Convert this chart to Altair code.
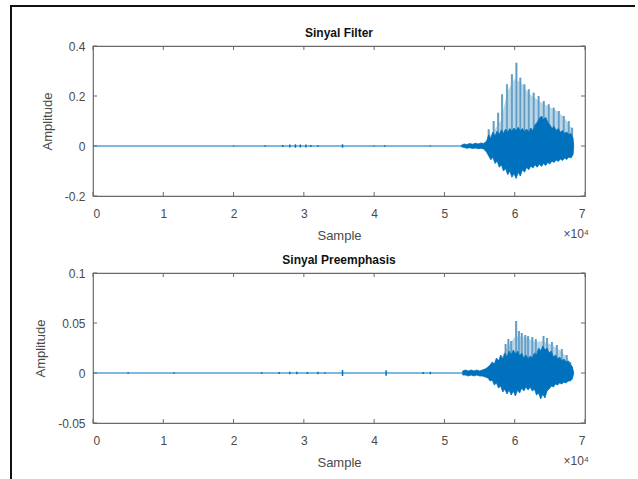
import altair as alt
import pandas as pd

# ---------------- axes ----------------
X_TICKS = [0, 10000, 20000, 30000, 40000, 50000, 60000, 70000]
TOP_Y_TICKS = [-0.2, 0, 0.2, 0.4]
BOT_Y_TICKS = [-0.05, 0, 0.05, 0.1]

# ---------------- "Sinyal Filter" ----------------
# quiet stretch of the recording (flat at zero)
filt_quiet = [0, 52400]
# small bursts inside the quiet stretch: sample, half-amplitude
filt_blip_x = [20000, 24500, 27000, 28000, 28800, 29500, 30300, 31000, 32000, 35500, 40000, 41500, 48000]
filt_blip_a = [0.002, 0.003, 0.004, 0.006, 0.007, 0.006, 0.006, 0.004, 0.003, 0.007, 0.002, 0.003, 0.002]
# dense voiced part: sample, upper and lower envelope
filt_x = [52400, 52800, 53200, 53600, 54000, 54400, 54800, 55200, 55600, 56000,
          56300, 56600, 56900, 57200, 57500, 57800, 58100, 58400, 58700, 59000,
          59300, 59600, 59900, 60200, 60500, 60800, 61100, 61400, 61700, 62000,
          62300, 62600, 62900, 63200, 63500, 63800, 64100, 64400, 64700, 65000,
          65300, 65600, 65900, 66200, 66500, 66800, 67100, 67400, 67700, 68000,
          68300, 68400]
filt_hi = [0.003, 0.008, 0.006, 0.010, 0.007, 0.011, 0.008, 0.012, 0.010, 0.020,
           0.045, 0.030, 0.055, 0.040, 0.060, 0.045, 0.065, 0.050, 0.068, 0.055,
           0.070, 0.058, 0.072, 0.060, 0.075, 0.060, 0.070, 0.058, 0.068, 0.055,
           0.072, 0.060, 0.085, 0.095, 0.110, 0.120, 0.105, 0.115, 0.095, 0.085,
           0.070, 0.078, 0.062, 0.070, 0.055, 0.062, 0.050, 0.056, 0.045, 0.050,
           0.030, 0.0]
filt_lo = [-0.003, -0.006, -0.009, -0.007, -0.010, -0.008, -0.011, -0.009, -0.012, -0.025,
           -0.040, -0.055, -0.045, -0.070, -0.060, -0.085, -0.075, -0.100, -0.090, -0.115,
           -0.100, -0.125, -0.110, -0.130, -0.105, -0.120, -0.095, -0.105, -0.085, -0.095,
           -0.080, -0.088, -0.075, -0.085, -0.072, -0.082, -0.070, -0.078, -0.066, -0.072,
           -0.060, -0.066, -0.056, -0.062, -0.052, -0.058, -0.048, -0.054, -0.044, -0.048,
           -0.035, 0.0]
# tall periodic peaks above the body
filt_peak_x = [56300, 57000, 57640, 58200, 58900, 59600, 60240, 60800, 61380, 62000,
               62700, 63400, 64130, 64840, 65550, 66270, 66980, 67690, 68160]
filt_peak_y = [0.067, 0.100, 0.133, 0.207, 0.247, 0.287, 0.333, 0.273, 0.247, 0.227,
               0.213, 0.200, 0.180, 0.167, 0.153, 0.140, 0.120, 0.100, 0.073]
# pale band between the peaks
filt_band_x = [56300, 57000, 58000, 59000, 60000, 61000, 62000, 63000, 64000, 65000, 66000, 67000, 68000, 68300]
filt_band_y = [0.040, 0.060, 0.100, 0.220, 0.270, 0.250, 0.210, 0.190, 0.170, 0.155, 0.140, 0.115, 0.075, 0.040]

# ---------------- "Sinyal Preemphasis" ----------------
pre_quiet = [0, 52600]
pre_blip_x = [5000, 11500, 24000, 26500, 28000, 29000, 30500, 32000, 33000, 35500, 41700, 47000, 48000]
pre_blip_a = [0.0008, 0.0008, 0.0008, 0.0010, 0.0012, 0.0012, 0.0010, 0.0012, 0.0008, 0.0030, 0.0028, 0.0010, 0.0012]
pre_x = [52600, 53000, 53400, 53800, 54200, 54600, 55000, 55400, 55800, 56200,
         56500, 56800, 57100, 57400, 57700, 58000, 58300, 58600, 58900, 59200,
         59500, 59800, 60100, 60400, 60700, 61000, 61300, 61600, 61900, 62200,
         62500, 62800, 63100, 63400, 63700, 64000, 64300, 64600, 64900, 65200,
         65500, 65800, 66100, 66400, 66700, 67000, 67300, 67600, 67900, 68200,
         68400]
pre_hi = [0.002, 0.003, 0.002, 0.003, 0.002, 0.003, 0.002, 0.003, 0.004, 0.006,
          0.008, 0.011, 0.009, 0.015, 0.012, 0.018, 0.014, 0.020, 0.016, 0.022,
          0.018, 0.023, 0.019, 0.022, 0.017, 0.020, 0.015, 0.018, 0.014, 0.017,
          0.015, 0.020, 0.018, 0.025, 0.022, 0.027, 0.023, 0.025, 0.020, 0.022,
          0.016, 0.018, 0.014, 0.016, 0.012, 0.014, 0.011, 0.012, 0.009, 0.006,
          0.0]
pre_lo = [-0.002, -0.002, -0.003, -0.002, -0.003, -0.002, -0.003, -0.003, -0.004, -0.005,
          -0.008, -0.007, -0.012, -0.010, -0.015, -0.013, -0.019, -0.016, -0.021, -0.017,
          -0.022, -0.018, -0.023, -0.017, -0.020, -0.015, -0.018, -0.014, -0.017, -0.014,
          -0.018, -0.016, -0.022, -0.020, -0.026, -0.021, -0.025, -0.018, -0.016, -0.013,
          -0.014, -0.011, -0.012, -0.010, -0.011, -0.009, -0.010, -0.008, -0.008, -0.006,
          0.0]
pre_peak_x = [58700, 59100, 59500, 60200, 60600, 61000, 61500, 61900, 62500, 63000,
              64100, 64600, 65300, 66000, 66700, 67400, 67900]
pre_peak_y = [0.029, 0.034, 0.032, 0.052, 0.042, 0.040, 0.038, 0.037, 0.036, 0.034,
              0.037, 0.035, 0.031, 0.028, 0.024, 0.018, 0.011]
pre_band_x = [58000, 59000, 60000, 61000, 62000, 63000, 64000, 65000, 66000, 67000, 68000]
pre_band_y = [0.015, 0.026, 0.036, 0.037, 0.034, 0.031, 0.032, 0.029, 0.025, 0.019, 0.010]

BLUE = "#0072BD"
PEAK = "#7fb0d0"
BAND = "#b3d2e4"
BOX = "#6a6a6a"
TXT = "#4a4a4a"
FONT = "Liberation Sans"
W, H = 492, 150
TICK_LEN = 4


def panel(title, ydom, yticks, quiet, bx, ba, sx, shi, slo, px, py, fx, fy, frame=False):
    xs = alt.Scale(domain=[0, 70000], nice=False, zero=False)
    ys = alt.Scale(domain=ydom, nice=False, zero=False)
    xax = alt.Axis(values=X_TICKS, labelExpr="datum.value / 10000", title="Sample",
                   domain=False, ticks=False, grid=False, labelPadding=12, titlePadding=10)
    yax = alt.Axis(values=yticks, labelExpr="'' + datum.value", title="Amplitude",
                   domain=False, ticks=False, grid=False, labelPadding=8, titlePadding=10)

    base_q = alt.Chart(pd.DataFrame({"s": quiet, "v": [0, 0]})).mark_line(
        color=BLUE, strokeWidth=1, clip=True
    ).encode(x=alt.X("s:Q", scale=xs, axis=xax), y=alt.Y("v:Q", scale=ys, axis=yax))

    blips = alt.Chart(pd.DataFrame({"s": bx, "a": ba, "b": [-v for v in ba]})).mark_rule(
        color=BLUE, strokeWidth=1.5
    ).encode(x=alt.X("s:Q", scale=xs), y=alt.Y("a:Q", scale=ys), y2="b:Q")

    band = alt.Chart(pd.DataFrame({"s": fx, "v": fy, "z": [0] * len(fx)})).mark_area(
        color=BAND, opacity=0.9, interpolate="linear"
    ).encode(x=alt.X("s:Q", scale=xs), y=alt.Y("v:Q", scale=ys), y2="z:Q")

    peaks = alt.Chart(pd.DataFrame({"s": px, "v": py, "z": [0] * len(px)})).mark_rule(
        color=PEAK, strokeWidth=2.2
    ).encode(x=alt.X("s:Q", scale=xs), y=alt.Y("v:Q", scale=ys), y2="z:Q")

    peaks_core = alt.Chart(pd.DataFrame({"s": px, "v": py, "z": [0] * len(px)})).mark_rule(
        color="#4f93c2", strokeWidth=0.8
    ).encode(x=alt.X("s:Q", scale=xs), y=alt.Y("v:Q", scale=ys), y2="z:Q")

    body = alt.Chart(pd.DataFrame({"s": sx, "hi": shi, "lo": slo})).mark_area(
        color=BLUE, interpolate="linear", stroke=BLUE, strokeWidth=0.8
    ).encode(x=alt.X("s:Q", scale=xs), y=alt.Y("hi:Q", scale=ys), y2="lo:Q")

    one = pd.DataFrame({"k": [0]})
    xt = pd.DataFrame({"t": X_TICKS})
    yt = pd.DataFrame({"t": yticks})
    tick_b = alt.Chart(xt).mark_rule(color=BOX, strokeWidth=1).encode(
        x=alt.X("t:Q", scale=xs), y=alt.value(H), y2=alt.value(H - TICK_LEN))
    tick_t = alt.Chart(xt).mark_rule(color=BOX, strokeWidth=1).encode(
        x=alt.X("t:Q", scale=xs), y=alt.value(0), y2=alt.value(TICK_LEN))
    tick_l = alt.Chart(yt).mark_rule(color=BOX, strokeWidth=1).encode(
        y=alt.Y("t:Q", scale=ys), x=alt.value(0), x2=alt.value(TICK_LEN))
    tick_r = alt.Chart(yt).mark_rule(color=BOX, strokeWidth=1).encode(
        y=alt.Y("t:Q", scale=ys), x=alt.value(W), x2=alt.value(W - TICK_LEN))

    exp = alt.Chart(one).mark_text(
        text="\u00d710\u2074", font=FONT, fontSize=12, color=TXT, align="right", baseline="middle"
    ).encode(x=alt.value(W + 4), y=alt.value(H + 38))

    head = alt.Chart(one).mark_text(
        text=title, font=FONT, fontSize=12, fontWeight="bold", color="#111111",
        align="center", baseline="middle"
    ).encode(x=alt.value(W / 2), y=alt.value(-13))

    layers = [base_q, blips, band, peaks, peaks_core, body, tick_b, tick_t, tick_l, tick_r, exp, head]

    if frame:
        top_line = alt.Chart(one).mark_rule(color="#111111", strokeWidth=2).encode(
            x=alt.value(-82), x2=alt.value(542), y=alt.value(-40))
        left_line = alt.Chart(one).mark_rule(color="#111111", strokeWidth=2).encode(
            x=alt.value(-82), y=alt.value(-41), y2=alt.value(434))
        layers += [top_line, left_line]

    return alt.layer(*layers).properties(width=W, height=H)


top = panel("Sinyal Filter", [-0.2, 0.4], TOP_Y_TICKS, filt_quiet, filt_blip_x, filt_blip_a,
            filt_x, filt_hi, filt_lo, filt_peak_x, filt_peak_y, filt_band_x, filt_band_y, frame=True)
bottom = panel("Sinyal Preemphasis", [-0.05, 0.1], BOT_Y_TICKS, pre_quiet, pre_blip_x, pre_blip_a,
               pre_x, pre_hi, pre_lo, pre_peak_x, pre_peak_y, pre_band_x, pre_band_y)

chart = alt.vconcat(top, bottom, spacing=77, bounds="flush").properties(
    padding={"left": 9, "top": 3, "right": 0, "bottom": 0},
    background="white",
).configure_view(
    stroke=BOX, strokeWidth=1.2
).configure_axis(
    labelFont=FONT, labelFontSize=12, labelColor=TXT,
    titleFont=FONT, titleFontSize=13, titleColor=TXT, titleFontWeight="normal",
)

chart.save("out.html", embed_options={"renderer": "svg", "actions": False})
